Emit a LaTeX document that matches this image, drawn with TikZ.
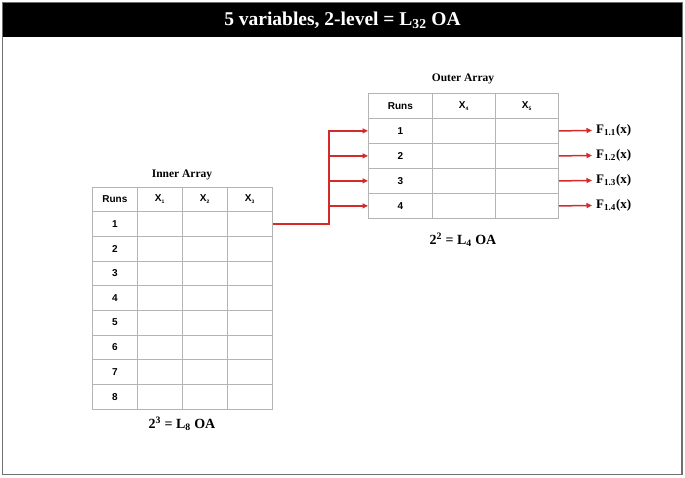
\documentclass[tikz,border=0pt]{standalone}
\usepackage{fontspec}
\setmainfont{Liberation Serif}
\setsansfont{Liberation Sans}
\usetikzlibrary{arrows.meta}
\definecolor{gridgray}{HTML}{B4B4B4}
\definecolor{framegray}{HTML}{707070}
\definecolor{linkred}{HTML}{D42A2A}
\begin{document}
\begin{tikzpicture}[x=1pt,y=-1pt,
  cell/.style={draw=gridgray, line width=0.8pt, inner sep=0pt, anchor=north west,
    minimum height=#1, font=\sffamily\bfseries\fontsize{10}{12}\selectfont},
  tabletitle/.style={font=\rmfamily\bfseries\fontsize{11.5}{13}\selectfont},
  oalabel/.style={font=\rmfamily\bfseries\fontsize{14}{16}\selectfont},
  flabel/.style={anchor=west, inner sep=4pt, font=\rmfamily\bfseries\fontsize{13}{15}\selectfont},
  redlink/.style={draw=linkred, line width=1.5pt, -{Triangle[length=5.5pt,width=5pt,fill=linkred]}}]
\useasboundingbox (0,0) rectangle (685,477);
% frame and title bar
\draw[framegray, line width=1.2pt] (2.5,2.5) rectangle (682,474.5);
\fill[black] (3,3) rectangle (682,37);
\node[text=white, font=\rmfamily\bfseries\fontsize{19.5}{22}\selectfont] (title) at (342.5,20) {5 variables, 2-level = L\textsubscript{32} OA};
% inner array
\node[tabletitle] (intitle) at (182,175) {Inner Array};
\foreach \c/\t [count=\i from 0] in {Runs/Runs, X1/X\textsubscript{\tiny 1}, X2/X\textsubscript{\tiny 2}, X3/X\textsubscript{\tiny 3}} {
  \node[cell=24.67pt, minimum width=45pt] (in-0-\i) at ({92+45*\i},186.5) {\t};
}
\foreach \r in {1,...,8} {
  \node[cell=24.67pt, minimum width=45pt] (in-\r-0) at (92,{186.5+24.67*\r}) {\r};
  \foreach \i in {1,2,3} {
    \node[cell=24.67pt, minimum width=45pt] (in-\r-\i) at ({92+45*\i},{186.5+24.67*\r}) {};
  }
}
\node[oalabel] (inlabel) at (182,424) {2\textsuperscript{3} = L\textsubscript{8} OA};
% outer array
\node[tabletitle] (outtitle) at (463,79) {Outer Array};
\node[cell=25pt, minimum width=64pt] (out-0-0) at (368,93) {Runs};
\node[cell=25pt, minimum width=63pt] (out-0-1) at (432,93) {X\textsubscript{\tiny 4}};
\node[cell=25pt, minimum width=63pt] (out-0-2) at (495,93) {X\textsubscript{\tiny 5}};
\foreach \r in {1,...,4} {
  \node[cell=25pt, minimum width=64pt] (out-\r-0) at (368,{93+25*\r}) {\r};
  \node[cell=25pt, minimum width=63pt] (out-\r-1) at (432,{93+25*\r}) {};
  \node[cell=25pt, minimum width=63pt] (out-\r-2) at (495,{93+25*\r}) {};
}
\node[oalabel] (outlabel) at (463,240) {2\textsuperscript{2} = L\textsubscript{4} OA};
% labels
\foreach \r in {1,...,4} {
  \node[flabel] (f\r) at (592,{105.5+25*\r}) {F\textsubscript{1.\r}(x)};
}
% connectors
\coordinate (bus) at (329,0);
\draw[redlink] (in-1-3.east) -| (bus |- out-1-0.west) -- (out-1-0.west);
\draw[redlink] (bus |- out-2-0.west) -- (out-2-0.west);
\draw[redlink] (bus |- out-3-0.west) -- (out-3-0.west);
\draw[redlink] (bus |- out-4-0.west) -- (out-4-0.west);
\draw[redlink] (out-1-2.east) -- (f1.west);
\draw[redlink] (out-2-2.east) -- (f2.west);
\draw[redlink] (out-3-2.east) -- (f3.west);
\draw[redlink] (out-4-2.east) -- (f4.west);
\end{tikzpicture}
\end{document}
